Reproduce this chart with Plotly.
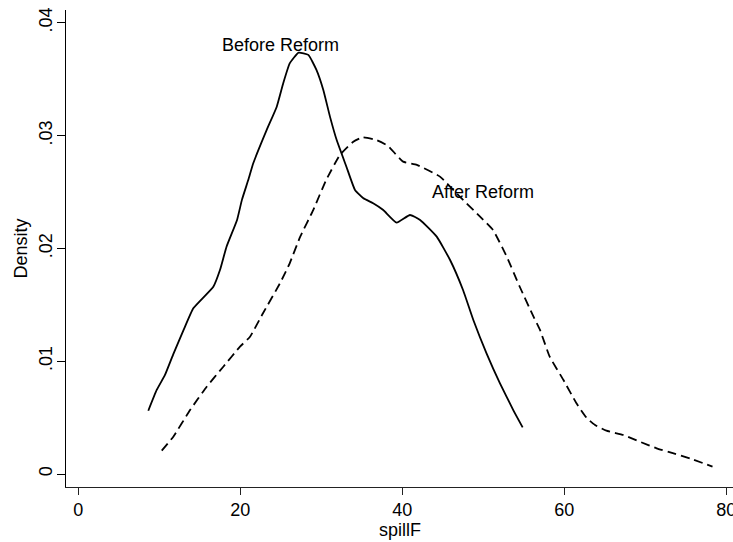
import plotly.graph_objects as go

# Before Reform (solid) kernel density
before_x = [8.64, 9.68, 10.7, 11.77, 13.0, 14.2, 16.67, 17.5, 18.3, 19.6, 20.2, 21.0, 21.6,
            23.26, 24.5, 25.3, 26.1, 27.2, 28.4, 29.4, 30.25, 31.07, 31.9, 33.1, 34.16,
            35.2, 36.4, 37.65, 39.3, 40.95, 42.2, 44.25, 45.9, 47.5, 48.77, 50.4, 52.06,
            53.7, 54.86]
before_y = [0.00561, 0.00745, 0.00878, 0.0107, 0.01277, 0.01469, 0.0166, 0.0181, 0.02015,
            0.02252, 0.0243, 0.0261, 0.02754, 0.0305, 0.03256, 0.03464, 0.0364, 0.03735,
            0.03715, 0.03582, 0.03404, 0.03168, 0.0296, 0.02724, 0.02518, 0.02444, 0.024,
            0.0234, 0.02228, 0.02296, 0.02252, 0.02104, 0.01897, 0.01631, 0.01365, 0.0107,
            0.00804, 0.00567, 0.00414]

# After Reform (dashed) kernel density
after_x = [10.3, 11.73, 13.8, 15.85, 17.9, 19.96, 21.2, 22.8, 24.9, 26.1, 27.4, 29.0, 30.6,
           32.3, 33.95, 35.1, 36.8, 38.2, 40.1, 41.8, 44.65, 47.1, 49.6, 51.2, 52.9, 54.5,
           56.2, 57.0, 58.2, 59.9, 61.5, 62.8, 63.8, 65.2, 67.3, 69.35, 71.4, 73.5, 75.5,
           78.3]
after_y = [0.00207, 0.00331, 0.00567, 0.00774, 0.00951, 0.01129, 0.01217, 0.01425, 0.01691,
           0.01868, 0.02104, 0.0234, 0.02606, 0.02828, 0.02946, 0.02985, 0.02961, 0.0291,
           0.02769, 0.0274, 0.02636, 0.02458, 0.02281, 0.02163, 0.01926, 0.0166, 0.01395,
           0.01277, 0.0104, 0.00833, 0.00627, 0.00494, 0.00434, 0.00384, 0.00346, 0.00286,
           0.00228, 0.00183, 0.00139, 0.00065]

x_ticks = [0, 20, 40, 60, 80]
y_ticks = [0, 0.01, 0.02, 0.03, 0.04]
y_tick_labels = ["0", ".01", ".02", ".03", ".04"]

labels = ["Before Reform", "After Reform"]
label_x = [25, 50]
label_y = [0.038, 0.025]

x_title = "spillF"
y_title = "Density"

FONT = "Liberation Sans, Arial, sans-serif"

fig = go.Figure()
fig.add_trace(go.Scatter(x=before_x, y=before_y, mode="lines",
                         line=dict(color="black", width=1.8, shape="spline", smoothing=0.4),
                         showlegend=False, name=labels[0]))
fig.add_trace(go.Scatter(x=after_x, y=after_y, mode="lines",
                         line=dict(color="black", width=1.8, dash="9px,5px",
                                   shape="spline", smoothing=0.4),
                         showlegend=False, name=labels[1]))

for t, xx, yy in zip(labels, label_x, label_y):
    fig.add_annotation(x=xx, y=yy, text=t, showarrow=False, xanchor="center",
                       yanchor="middle", font=dict(size=18, color="black", family=FONT))

# axis titles as annotations for exact placement
fig.add_annotation(x=0.5, y=0, xref="paper", yref="paper", text=x_title, showarrow=False,
                   xanchor="center", yanchor="middle", yshift=-43,
                   font=dict(size=18, color="black", family=FONT))
fig.add_annotation(x=0, y=0.5, xref="paper", yref="paper", text=y_title, showarrow=False,
                   xanchor="center", yanchor="middle", xshift=-46, textangle=-90,
                   font=dict(size=18, color="black", family=FONT))

fig.update_layout(
    width=733, height=542,
    margin=dict(l=66, r=0, t=10, b=55),
    paper_bgcolor="white", plot_bgcolor="white",
    font=dict(family=FONT, size=18, color="black"),
    xaxis=dict(range=[-1.52, 80.83], tickvals=x_ticks, ticktext=[str(v) for v in x_ticks],
               automargin=False, ticklabelstandoff=-1, ticklabeloverflow="allow",
               showgrid=False, zeroline=False, showline=True, linecolor="#222", linewidth=1,
               ticks="outside", ticklen=7, tickcolor="#222"),
    yaxis=dict(range=[-0.00115, 0.04113], tickvals=y_ticks, ticktext=y_tick_labels,
               automargin=False, ticklabelstandoff=-2, ticklabeloverflow="allow",
               tickangle=-90, showgrid=False, zeroline=False, showline=True,
               linecolor="black", linewidth=1, ticks="outside", ticklen=8, tickcolor="black"),
)

fig.write_html("out.html", config={"displayModeBar": False},
               post_script="document.body.style.margin='0';document.body.style.overflow='hidden';")
